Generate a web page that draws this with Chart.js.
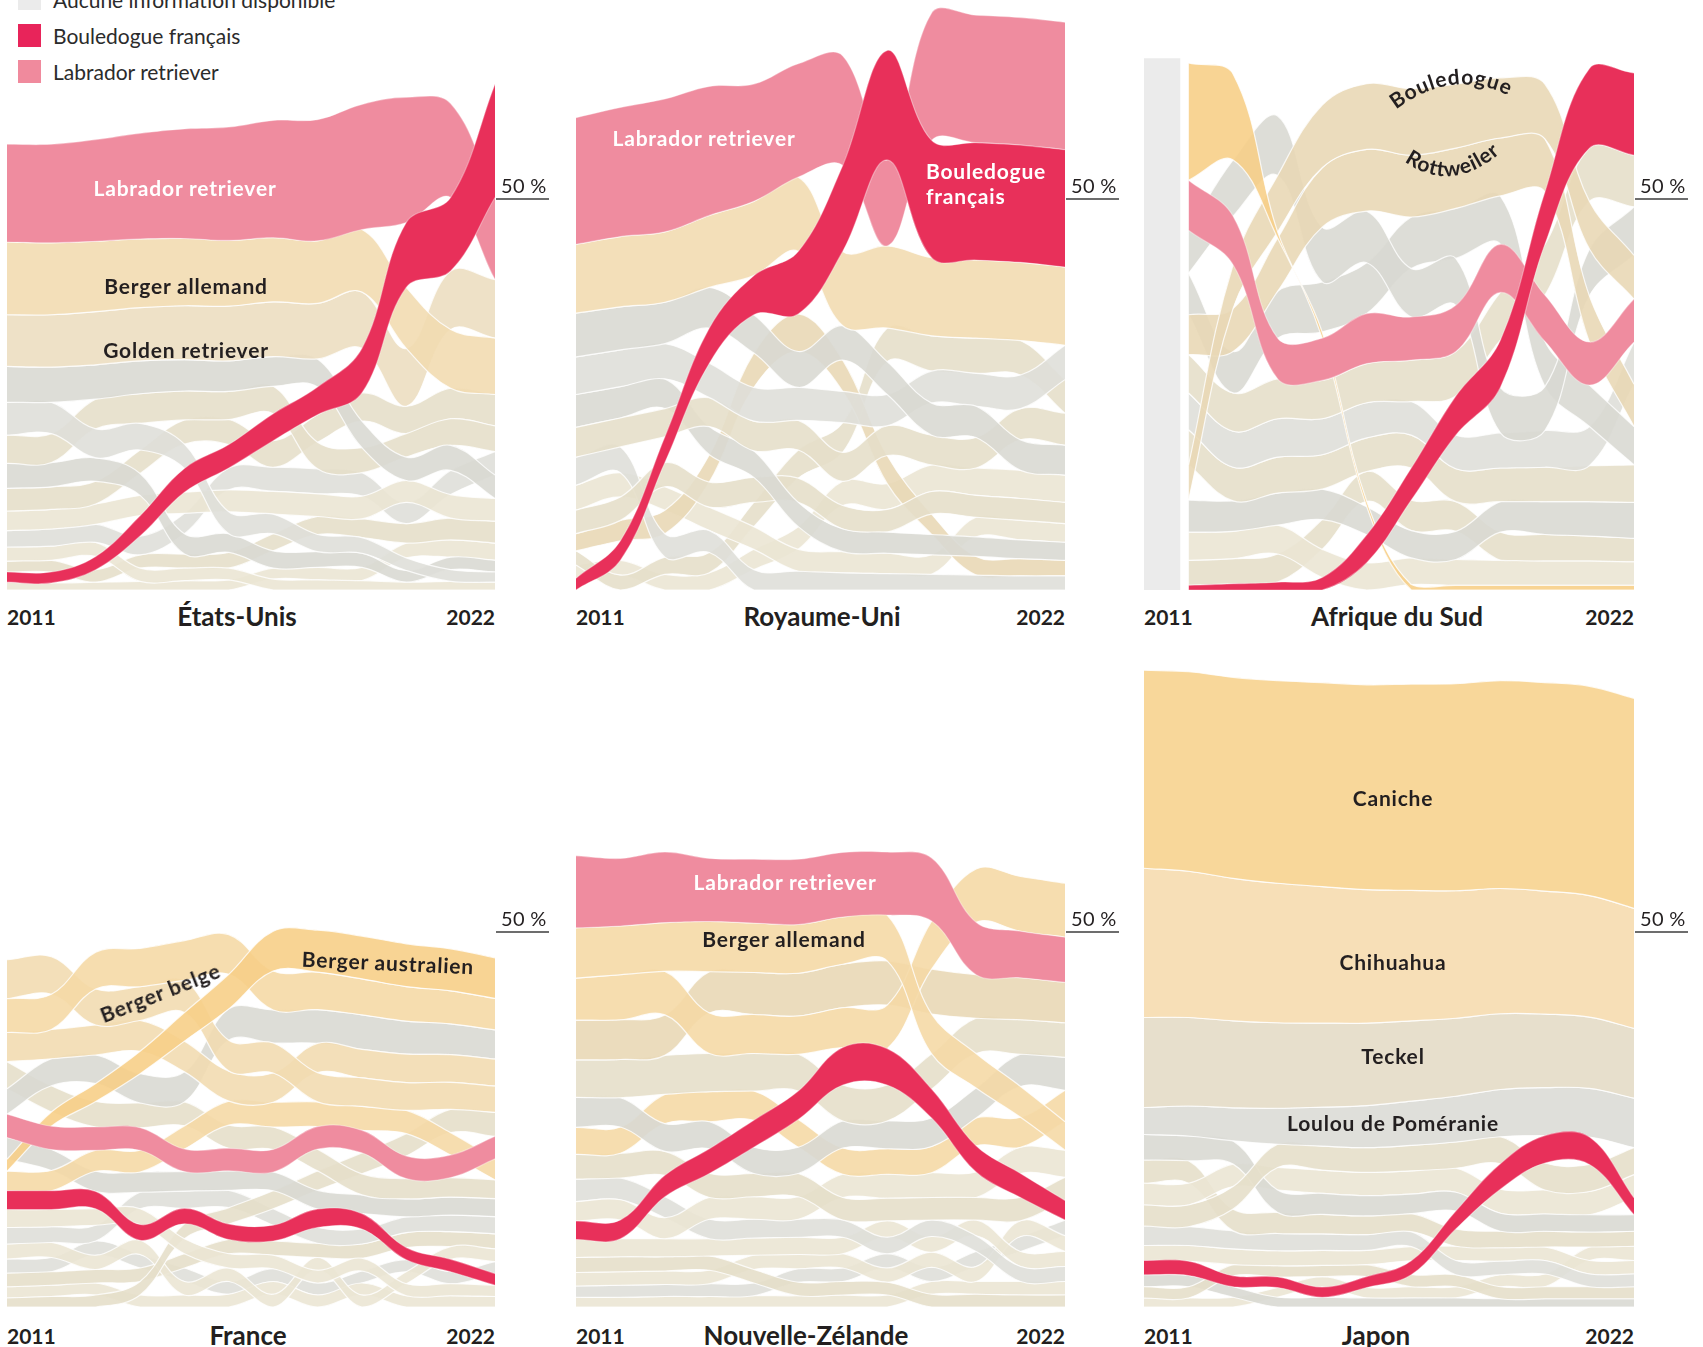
<!DOCTYPE html>
<html><head><meta charset="utf-8">
<script src="https://cdn.jsdelivr.net/npm/chart.js@4.4.1/dist/chart.umd.min.js"></script>
<style>
html,body{margin:0;padding:0;background:#fff;}
#stage{position:relative;width:1703px;height:1347px;overflow:hidden;font-family:Lato,"Open Sans",sans-serif;color:#231f20;}
#stage canvas{position:absolute;}
.lab{position:absolute;white-space:nowrap;font-weight:700;font-size:21px;letter-spacing:0.8px;line-height:1;transform:translate(-50%,-50%);}
.yr{position:absolute;font-weight:700;font-size:21px;line-height:1;transform:translateY(-50%);}
.ttl{position:absolute;font-weight:700;font-size:26px;line-height:1;transform:translate(-50%,-50%);white-space:nowrap;}
.fifty{position:absolute;font-size:20px;line-height:20px;font-weight:400;letter-spacing:0.3px;}
.lg{position:absolute;left:18px;width:23px;height:23px;}
.lgt{position:absolute;left:53px;font-size:21px;line-height:1;transform:translateY(-50%);white-space:nowrap;color:#2b2b2b;}
svg{position:absolute;left:0;top:0;}
</style></head><body><div id="stage">
<div class="lg" style="top:-13px;background:#ebebeb"></div><div class="lgt" style="top:-1px">Aucune information disponible</div>
<div class="lg" style="top:24px;background:#e8245a"></div><div class="lgt" style="top:35px">Bouledogue français</div>
<div class="lg" style="top:60px;background:#f08a9d"></div><div class="lgt" style="top:71px">Labrador retriever</div>
</div>
<script>
// ---------- DATA ----------
const YEARS = [2011,2012,2013,2014,2015,2016,2017,2018,2019,2020,2021,2022];

// États-Unis (part des inscriptions, %)
const usBouledogueFrancais = [1.3,1.4,1.7,2.6,3.05,3.0,3.45,3.55,5.7,8.3,9.4,14.5];
const usLabrador          = [12.5,12.6,13.0,13.5,14.0,14.5,15.0,15.5,16.0,16.0,12.0,10.5];
const usBergerAllemand    = [9.3,9.2,9.0,8.8,8.6,8.4,8.2,8.0,8.0,7.8,7.5,7.2];
const usGoldenRetriever   = [6.6,6.7,6.8,6.8,6.9,7.0,7.0,7.1,7.2,7.4,7.5,7.5];
const usBeagle            = [4.6,4.5,4.4,4.2,4.0,3.9,3.8,3.6,3.4,3.0,3.2,3.0];
const usYorkshire         = [4.2,4.0,3.7,3.4,3.1,2.8,2.5,2.2,2.0,1.6,1.5,1.3];
const usBouledogueAnglais = [3.6,3.7,3.8,3.8,3.7,3.6,3.5,3.4,3.2,3.0,3.4,3.3];
const usBoxer             = [3.2,3.1,3.0,2.8,2.6,2.4,2.2,2.0,1.8,1.5,1.6,1.5];
const usCaniche           = [2.9,2.9,2.9,3.0,3.1,3.2,3.4,3.5,3.6,3.5,3.9,4.0];
const usTeckel            = [2.5,2.5,2.6,2.6,2.7,2.8,2.9,2.9,2.9,2.8,3.0,2.9];
const usRottweiler        = [2.1,2.2,2.3,2.4,2.6,2.8,3.1,3.2,3.0,2.7,3.1,3.0];
const usShihTzu           = [1.8,1.8,1.8,1.7,1.6,1.5,1.4,1.3,1.2,1.0,1.1,1.0];
const usBraqueAllemand    = [1.4,1.5,1.6,1.7,1.8,2.0,2.2,2.3,2.4,2.5,2.8,2.8];
const usCorgi             = [1.0,0.9,1.0,1.1,1.2,1.3,1.4,1.6,1.7,1.9,2.2,2.2];

// Royaume-Uni
const ukBouledogueFrancais = [1.5,2.5,3.3,4.5,5.0,8.0,11.0,14.0,15.0,15.0,15.0,15.0];
const ukLabrador           = [16.2,16.5,17.0,16.5,15.0,14.5,14.0,11.0,16.3,16.3,16.3,16.3];
const ukCocker             = [8.8,9.0,9.0,9.2,9.5,9.5,9.5,10.5,10.0,10.0,10.0,10.0];
const ukSpringer           = [5.6,5.5,5.3,5.2,4.9,4.6,4.4,4.2,4.1,4.0,3.9,3.8];
const ukBergerAllemand     = [4.8,4.7,4.5,4.4,4.3,4.2,4.0,4.0,4.1,4.2,4.3,4.4];
const ukGolden             = [3.8,3.7,3.6,3.7,3.8,3.8,3.7,3.8,3.8,3.9,4.0,4.1];
const ukCavalier           = [4.2,4.0,3.8,3.6,3.4,3.1,2.9,2.7,2.6,2.5,2.4,2.3];
const ukBorderTerrier      = [3.0,3.0,3.1,3.2,3.2,3.1,3.0,2.9,2.9,2.8,2.8,2.7];
const ukStaffie            = [3.6,3.3,3.0,2.8,2.6,2.4,2.2,2.1,2.0,1.9,1.8,1.8];
const ukCarlin             = [2.2,2.6,3.0,3.5,4.4,4.8,4.0,3.6,2.6,2.4,2.2,2.0];
const ukShihTzu            = [3.2,3.1,3.0,3.0,2.9,2.8,2.7,2.6,2.5,2.5,2.5,2.4];
const ukTeckel             = [1.8,1.9,2.2,2.6,3.1,3.6,3.8,4.3,4.5,4.5,4.4,4.3];
const ukBouledogueAnglais  = [1.7,1.9,2.0,2.2,2.6,2.9,3.1,3.3,3.4,3.5,3.6,3.5];

// Afrique du Sud (2011 : aucune information)
const saNoData             = [68, 68];
const saBouledogueFrancais = [null,0.6,0.8,1.0,1.6,3.55,4.1,5.0,6.05,6.7,10.2,10.5];
const saLabrador           = [null,6.4,6.2,5.2,5.4,6.4,5.5,5.9,6.15,5.9,5.5,5.5];
const saBergerAllemand     = [null,15.0,11.0,0.8,0.8,0.7,0.7,0.6,0.6,0.6,0.6,0.6];
const saBergerAllemandRang = [null,15.0,11.0,7.0,5.5,3.8,2.0,0.5,0.5,0.5,0.5,0.5];
const saBouledogue         = [null,4.5,5.6,7.2,8.0,8.4,8.5,8.2,7.7,7.0,6.1,5.6];
const saRottweiler         = [null,5.1,5.5,6.8,7.6,7.9,7.9,7.7,7.4,6.8,5.9,5.4];
const saJackRussell        = [null,5.5,7.2,7.6,7.0,6.6,6.2,6.0,5.8,5.6,6.0,6.2];
const saYorkshire          = [null,5.3,5.3,6.0,6.4,6.5,6.6,6.4,6.2,5.8,5.3,4.9];
const saBoerboel           = [null,4.9,4.9,5.1,4.9,5.0,5.3,5.7,6.1,6.5,6.8,6.6];
const saTeckel             = [null,4.7,4.6,4.9,4.6,4.5,4.3,4.3,4.5,4.7,5.0,5.4];
const saGolden             = [null,4.5,4.3,4.6,4.4,4.3,4.2,4.2,4.3,4.4,4.6,4.8];
const saHusky              = [null,4.1,3.9,4.1,3.9,3.6,3.5,3.6,3.9,4.2,4.4,4.6];
const saShihTzu            = [null,3.6,3.5,3.7,3.6,3.5,3.4,3.3,3.2,3.1,3.1,3.0];
const saCarlin             = [null,3.2,3.2,3.6,3.8,3.8,3.9,3.8,3.6,3.4,3.2,3.0];

// France
const frBouledogueFrancais = [2.5,2.5,2.3,2.1,2.05,2.05,2.1,2.45,2.05,1.62,1.65,1.55];
const frLabrador           = [3.1,3.1,3.1,3.0,3.0,3.0,3.0,3.0,3.0,3.0,3.0,3.0];
const frBergerAllemand     = [5.2,5.0,4.8,4.5,4.3,4.1,4.0,3.9,3.8,3.7,3.6,3.5];
const frBergerBelge        = [4.5,4.7,4.9,5.1,5.3,5.3,5.2,5.0,4.8,4.6,4.4,4.2];
const frBergerAustralien   = [1.6,1.9,2.4,3.0,3.8,4.6,5.3,5.6,5.7,5.7,5.6,5.4];
const frBergerAustralienRang = [2.85,3.12,3.5,4.0,4.2,4.6,5.3,5.6,5.7,5.7,5.6,5.4];
const frGolden             = [3.9,3.9,4.0,4.1,4.1,4.0,3.9,3.9,3.8,3.8,3.7,3.6];
const frStaffie            = [3.4,3.6,3.8,3.9,4.0,4.2,4.4,4.5,4.6,4.4,4.1,3.9];
const frCavalier           = [3.6,3.5,3.4,3.3,3.2,3.1,3.0,2.9,2.8,2.7,2.6,2.5];
const frChihuahua          = [2.6,2.7,2.8,2.9,3.1,3.2,3.3,3.3,3.2,3.1,3.0,2.8];
const frJackRussell        = [2.9,2.8,2.7,2.7,2.6,2.6,2.5,2.5,2.5,2.4,2.4,2.4];
const frYorkshire          = [2.4,2.3,2.2,2.1,2.0,1.9,1.8,1.7,1.7,1.6,1.6,1.5];
const frCaneCorso          = [1.2,1.4,1.6,1.8,2.0,2.2,2.4,2.6,2.8,3.0,3.1,3.2];
const frBorderCollie       = [2.2,2.1,2.1,2.2,2.3,2.3,2.2,2.1,2.0,2.1,2.2,2.3];
const frBeagle             = [2.0,2.0,1.9,1.9,1.8,1.8,1.7,1.7,1.6,1.6,1.7,1.7];
const frCocker             = [1.8,1.8,1.8,1.8,1.9,1.9,1.9,1.9,1.9,2.0,2.0,2.0];
const frShihTzu            = [1.5,1.5,1.6,1.6,1.6,1.7,1.7,1.6,1.6,1.5,1.5,1.4];
const frEpagneulBreton     = [1.9,1.9,1.9,1.8,1.8,1.7,1.7,1.6,1.6,1.6,1.6,1.6];

// Nouvelle-Zélande
const nzBouledogueFrancais = [2.45,2.5,2.85,3.3,3.6,3.8,5.0,4.85,3.85,3.5,3.2,2.6];
const nzLabrador           = [9.6,9.0,9.4,8.4,8.5,8.7,8.6,8.4,8.4,7.0,6.2,6.0];
const nzBergerAllemand     = [6.7,6.5,6.5,6.7,6.6,6.5,6.3,6.1,5.3,4.6,4.1,3.8];
const nzHuntaway           = [5.6,6.0,5.8,5.4,5.2,5.1,5.3,5.8,6.4,7.1,7.3,7.2];
const nzGolden             = [5.3,5.3,5.4,5.5,5.6,5.7,5.8,5.9,6.0,5.8,5.6,5.4];
const nzStaffie            = [5.0,5.1,5.2,5.1,5.0,4.9,4.8,4.8,4.7,4.7,4.6,4.6];
const nzJackRussell        = [4.0,3.9,3.7,3.6,3.5,3.5,3.6,3.7,3.8,4.0,4.3,4.4];
const nzBorderCollie       = [3.6,3.5,3.9,4.0,3.9,3.7,3.5,3.4,3.5,3.7,4.0,4.2];
const nzHeadingDog         = [3.3,3.3,3.2,3.2,3.1,3.1,3.0,3.0,3.0,3.0,3.1,3.1];
const nzCaniche            = [2.6,2.7,2.8,2.9,3.0,3.0,3.1,3.2,3.3,3.4,3.5,3.6];
const nzBichon             = [3.0,2.9,2.8,2.6,2.5,2.4,2.3,2.2,2.2,2.1,2.0,2.0];
const nzCavalier           = [2.4,2.4,2.4,2.3,2.3,2.3,2.2,2.2,2.1,2.1,2.0,2.0];
const nzBoxer              = [2.0,2.0,1.9,1.9,1.8,1.8,1.8,1.7,1.7,1.7,1.6,1.6];
const nzSchnauzer          = [1.8,1.8,1.8,1.8,1.9,1.9,1.9,1.9,2.0,2.0,2.1,2.1];
const nzRottweiler         = [1.5,1.6,1.6,1.7,1.7,1.8,1.8,1.9,1.9,2.0,2.0,2.1];
const nzTeckel             = [1.3,1.3,1.4,1.4,1.5,1.5,1.6,1.6,1.7,1.7,1.8,1.8];

// Japon
const jpBouledogueFrancais = [1.9,1.9,1.45,1.4,1.35,1.45,1.85,2.4,3.4,3.65,3.65,2.25];
const jpCaniche            = [26.4,26.6,26.8,27.0,27.2,27.3,27.5,27.6,27.7,27.8,27.9,28.0];
const jpChihuahua          = [19.9,19.5,19.0,18.6,18.2,17.8,17.4,17.0,16.7,16.4,16.2,16.0];
const jpTeckel             = [12.0,11.8,11.6,11.4,11.2,11.0,10.7,10.4,10.1,9.8,9.5,9.3];
const jpLoulou             = [3.6,4.0,4.4,4.8,5.2,5.6,5.9,6.1,6.3,6.4,6.5,6.6];
const jpShiba              = [2.8,2.9,3.0,3.1,3.2,3.3,3.4,3.5,3.6,3.6,3.6,3.6];
const jpYorkshire          = [3.4,3.3,3.1,3.0,2.8,2.7,2.6,2.5,2.4,2.3,2.3,2.2];
const jpSchnauzer          = [2.9,2.9,3.0,3.0,3.1,3.1,3.1,3.2,3.2,3.2,3.1,3.1];
const jpShihTzu            = [3.1,3.0,2.9,2.8,2.6,2.5,2.4,2.3,2.2,2.1,2.0,2.0];
const jpMaltais            = [2.6,2.5,2.4,2.3,2.2,2.1,2.0,1.9,1.8,1.8,1.7,1.7];
const jpPapillon           = [2.0,2.1,2.1,2.0,2.0,1.9,1.9,1.9,1.8,1.8,1.8,1.8];
const jpGolden             = [1.5,1.5,1.5,1.5,1.5,1.6,1.6,1.6,1.6,1.6,1.6,1.6];
const jpCarlin             = [1.6,1.5,1.4,1.3,1.3,1.2,1.2,1.2,1.1,1.1,1.1,1.1];
const jpCorgi              = [1.2,1.2,1.3,1.3,1.4,1.4,1.5,1.5,1.6,1.7,1.8,1.9];

// ---------- STYLES ----------
const COL = {
  red:'#e8305a', pink:'#ef8c9f', orange:'#f7cf88', sand:'#f2dbb1', lorange:'#f5d9a6',
  tan:'#e9d8b6', golden:'#ecdec1', beige:'#e6dfca', lbeige:'#ebe6d4', grey:'#d9d9d3',
  lgrey:'#dfdfd9', teckel:'#e4dcc6', loulou:'#dbdbd6', caniche:'#f7d38f', chihuahua:'#f6dcaf'
};
function rgba(hex,a){const n=parseInt(hex.slice(1),16);return `rgba(${n>>16&255},${n>>8&255},${n&255},${a})`;}

const B = (name, values, color, rank) => ({name, values, color, rank});

const panels = [
 {title:'États-Unis', x:7, y:0, w:488, h:590, yMax:75.45, titleX:237, labelY:616, breeds:[
   B('Bouledogue français',usBouledogueFrancais,'red'), B('Labrador retriever',usLabrador,'pink'),
   B('Berger allemand',usBergerAllemand,'sand'), B('Golden retriever',usGoldenRetriever,'golden'),
   B('Beagle',usBeagle,'grey'), B('Yorkshire',usYorkshire,'lgrey'), B('Bouledogue anglais',usBouledogueAnglais,'beige'),
   B('Boxer',usBoxer,'grey'), B('Caniche',usCaniche,'beige'), B('Teckel',usTeckel,'lbeige'),
   B('Rottweiler',usRottweiler,'lgrey'), B('Shih tzu',usShihTzu,'lbeige'), B('Braque allemand',usBraqueAllemand,'beige'),
   B('Welsh corgi',usCorgi,'lbeige')]},
 {title:'Royaume-Uni', x:576, y:0, w:489, h:590, yMax:75.45, titleX:822, labelY:616, breeds:[
   B('Bouledogue français',ukBouledogueFrancais,'red'), B('Labrador retriever',ukLabrador,'pink'),
   B('Cocker',ukCocker,'sand'), B('Springer',ukSpringer,'grey'), B('Berger allemand',ukBergerAllemand,'lgrey'),
   B('Golden',ukGolden,'beige'), B('Cavalier',ukCavalier,'grey'), B('Border terrier',ukBorderTerrier,'beige'),
   B('Staffie',ukStaffie,'lgrey'), B('Carlin',ukCarlin,'tan'), B('Shih tzu',ukShihTzu,'lbeige'),
   B('Teckel',ukTeckel,'beige'), B('Bouledogue anglais',ukBouledogueAnglais,'lbeige')]},
 {title:'Afrique du Sud', x:1144, y:0, w:490, h:590, yMax:75.45, titleX:1397, labelY:616, noData:true, breeds:[
   B('Bouledogue français',saBouledogueFrancais,'red'), B('Labrador retriever',saLabrador,'pink'),
   B('Berger allemand',saBergerAllemand,'orange',saBergerAllemandRang),
   B('Bouledogue',saBouledogue,'tan'), B('Rottweiler',saRottweiler,'tan'),
   B('Jack Russell',saJackRussell,'grey'), B('Yorkshire',saYorkshire,'grey'), B('Boerboel',saBoerboel,'beige'),
   B('Teckel',saTeckel,'lgrey'), B('Golden',saGolden,'beige'), B('Husky',saHusky,'grey'),
   B('Shih tzu',saShihTzu,'lbeige'), B('Carlin',saCarlin,'beige')]},
 {title:'France', x:7, y:640, w:488, h:667, yMax:88.93, titleX:248, labelY:1335, breeds:[
   B('Bouledogue français',frBouledogueFrancais,'red'), B('Labrador retriever',frLabrador,'pink'),
   B('Berger australien',frBergerAustralien,'orange',frBergerAustralienRang), B('Berger belge',frBergerBelge,'lorange'),
   B('Berger allemand',frBergerAllemand,'sand'), B('Golden',frGolden,'sand'), B('Chihuahua',frChihuahua,'lorange'),
   B('Staffie',frStaffie,'grey'), B('Cavalier',frCavalier,'beige'), B('Jack Russell',frJackRussell,'grey'),
   B('Yorkshire',frYorkshire,'lbeige'), B('Cane corso',frCaneCorso,'beige'), B('Border collie',frBorderCollie,'lgrey'),
   B('Beagle',frBeagle,'lbeige'), B('Cocker',frCocker,'beige'), B('Shih tzu',frShihTzu,'lbeige'),
   B('Épagneul breton',frEpagneulBreton,'lgrey')]},
 {title:'Nouvelle-Zélande', x:576, y:640, w:489, h:667, yMax:88.93, titleX:806, labelY:1335, breeds:[
   B('Bouledogue français',nzBouledogueFrancais,'red'), B('Labrador retriever',nzLabrador,'pink'),
   B('Berger allemand',nzBergerAllemand,'lorange'), B('Huntaway',nzHuntaway,'lorange'), B('Golden',nzGolden,'tan'),
   B('Staffie',nzStaffie,'beige'), B('Jack Russell',nzJackRussell,'grey'), B('Border collie',nzBorderCollie,'lorange'),
   B('Heading dog',nzHeadingDog,'beige'), B('Caniche',nzCaniche,'lbeige'), B('Bichon',nzBichon,'lgrey'),
   B('Cavalier',nzCavalier,'lbeige'), B('Boxer',nzBoxer,'beige'), B('Schnauzer',nzSchnauzer,'lbeige'),
   B('Rottweiler',nzRottweiler,'lgrey'), B('Teckel',nzTeckel,'lbeige')]},
 {title:'Japon', x:1144, y:640, w:490, h:667, yMax:88.93, titleX:1376, labelY:1335, breeds:[
   B('Bouledogue français',jpBouledogueFrancais,'red'), B('Caniche',jpCaniche,'caniche'),
   B('Chihuahua',jpChihuahua,'chihuahua'), B('Teckel',jpTeckel,'teckel'), B('Loulou de Poméranie',jpLoulou,'loulou'),
   B('Shiba',jpShiba,'beige'), B('Yorkshire',jpYorkshire,'grey'), B('Schnauzer nain',jpSchnauzer,'lbeige'),
   B('Shih tzu',jpShihTzu,'beige'), B('Maltais',jpMaltais,'lgrey'), B('Papillon',jpPapillon,'lbeige'),
   B('Golden',jpGolden,'beige'), B('Carlin',jpCarlin,'grey'), B('Welsh corgi',jpCorgi,'lbeige')]}
];

const labels = [
 {t:'Labrador retriever', x:185, y:187, c:'#fff'}, {t:'Berger allemand', x:186, y:285}, {t:'Golden retriever', x:186, y:349},
 {t:'Labrador retriever', x:704, y:137, c:'#fff'},
 {t:'Labrador retriever', x:785, y:881, c:'#fff'}, {t:'Berger allemand', x:784, y:938},
 {t:'Caniche', x:1393, y:797}, {t:'Chihuahua', x:1393, y:961}, {t:'Teckel', x:1393, y:1055}, {t:'Loulou de Poméranie', x:1393, y:1122},
 {t:'Berger belge', x:160, y:992, r:-21.5}, {t:'Berger australien', x:388, y:962, r:2.5}
];

// ---------- RENDER ----------
const stage = document.getElementById('stage');
const fiftyPlugin = {id:'fifty', afterDraw(chart){
  const y = chart.scales.y.getPixelForValue(50), a = chart.chartArea, ctx = chart.ctx;
  ctx.save(); ctx.strokeStyle = '#3c3c3c'; ctx.lineWidth = 1.5;
  ctx.beginPath(); ctx.moveTo(a.right+1, y); ctx.lineTo(a.right+54, y); ctx.stroke(); ctx.restore();
}};

function build(p){
  const cv = document.createElement('canvas');
  cv.width = p.w + 60; cv.height = p.h;
  cv.style.left = p.x + 'px'; cv.style.top = p.y + 'px';
  stage.appendChild(cv);
  const n = YEARS.length;
  const low = p.breeds.map(() => new Array(n).fill(null));
  const high = p.breeds.map(() => new Array(n).fill(null));
  for (let t = 0; t < n; t++) {
    const key = i => (p.breeds[i].rank ? p.breeds[i].rank[t] : p.breeds[i].values[t]);
    const idx = p.breeds.map((b, i) => i).filter(i => p.breeds[i].values[t] != null);
    idx.sort((a, b) => key(a) - key(b));
    let cum = 0;
    for (const i of idx) { low[i][t] = cum; cum += p.breeds[i].values[t]; high[i][t] = cum; }
  }
  const ds = [];
  p.breeds.forEach((b, i) => {
    const hl = (b.color === 'red' || b.color === 'pink');
    const edge = {borderColor: hl ? 'rgba(255,255,255,0.35)' : 'rgba(255,255,255,0.8)', borderWidth: 1.2,
      pointRadius: 0, pointHoverRadius: 0, tension: 0.38, spanGaps: false};
    ds.push({...edge, label: b.name + ' bas', data: YEARS.map((yr, t) => ({x: yr, y: low[i][t]})), fill: false});
    ds.push({...edge, label: b.name, data: YEARS.map((yr, t) => ({x: yr, y: high[i][t]})), fill: '-1',
      backgroundColor: rgba(COL[b.color], hl ? 1 : 0.9)});
  });
  if (p.noData) {
    ds.push({label: 'Aucune information disponible', data: [{x: YEARS[0], y: saNoData[0]}, {x: YEARS[0] + 0.82, y: saNoData[1]}],
      fill: 'origin', backgroundColor: '#ebebeb', borderWidth: 0, pointRadius: 0, tension: 0});
  }
  const chart = new Chart(cv, {
    type: 'line', data: {datasets: ds},
    options: {responsive: false, animation: false, devicePixelRatio: 1,
      layout: {padding: {left: 0, right: 60, top: 0, bottom: 0}},
      plugins: {legend: {display: false}, tooltip: {enabled: false}},
      scales: {x: {type: 'linear', min: YEARS[0], max: YEARS[YEARS.length - 1], display: false},
               y: {min: 0, max: p.yMax, display: false}}},
    plugins: [fiftyPlugin]
  });
  const a = chart.chartArea;
  const y50 = p.y + chart.scales.y.getPixelForValue(50);
  const f = document.createElement('div'); f.className = 'fifty'; f.textContent = '50 %';
  f.style.left = (p.x + a.right + 6) + 'px'; f.style.top = (y50 - 24) + 'px'; stage.appendChild(f);
  const y0 = document.createElement('div'); y0.className = 'yr'; y0.textContent = String(YEARS[0]);
  y0.style.left = (p.x + a.left) + 'px'; y0.style.top = p.labelY + 'px'; stage.appendChild(y0);
  const y1 = document.createElement('div'); y1.className = 'yr'; y1.textContent = String(YEARS[YEARS.length - 1]);
  y1.style.right = (1703 - (p.x + a.right)) + 'px'; y1.style.top = p.labelY + 'px'; stage.appendChild(y1);
  const tt = document.createElement('div'); tt.className = 'ttl'; tt.textContent = p.title;
  tt.style.left = p.titleX + 'px'; tt.style.top = p.labelY + 'px'; stage.appendChild(tt);
}
panels.forEach(build);

labels.forEach(l => {
  const d = document.createElement('div'); d.className = 'lab'; d.textContent = l.t;
  d.style.left = l.x + 'px'; d.style.top = l.y + 'px'; d.style.color = l.c || '#231f20';
  if (l.r) d.style.transform = `translate(-50%,-50%) rotate(${l.r}deg)`;
  stage.appendChild(d);
});
// Bouledogue français (UK) two-line label
const bf = document.createElement('div'); bf.className = 'lab';
bf.style.cssText = 'left:926px;top:183px;color:#fff;line-height:25px;transform:translateY(-50%);text-align:left;';
bf.innerHTML = 'Bouledogue<br>français'; stage.appendChild(bf);

// curved labels (Afrique du Sud)
const svgNS = 'http://www.w3.org/2000/svg';
const svg = document.createElementNS(svgNS, 'svg');
svg.setAttribute('width', '1703'); svg.setAttribute('height', '1347');
svg.innerHTML = `<defs><path id="arcB" d="M1386 118 Q1452 60 1520 102"/><path id="arcR" d="M1390 150 Q1451 207 1514 140"/></defs>
<text font-family="Lato, sans-serif" font-weight="700" font-size="21" letter-spacing="0.8" fill="#231f20"><textPath href="#arcB" startOffset="50%" text-anchor="middle">Bouledogue</textPath></text>
<text font-family="Lato, sans-serif" font-weight="700" font-size="21" letter-spacing="0.8" fill="#231f20"><textPath href="#arcR" startOffset="50%" text-anchor="middle">Rottweiler</textPath></text>`;
stage.appendChild(svg);
</script></body></html>
